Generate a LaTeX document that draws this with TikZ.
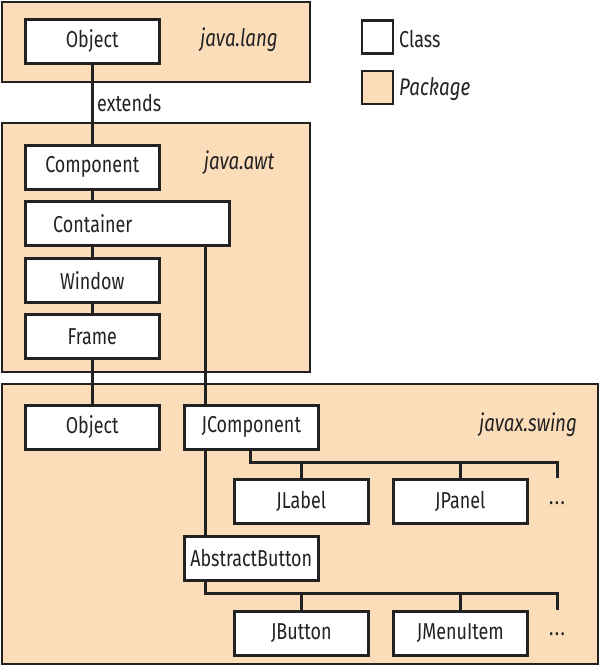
\documentclass[tikz,border=0pt]{standalone}
\usepackage{fontspec}
\setmainfont{Fira Sans}[FakeStretch=0.78]
\definecolor{pkg}{RGB}{252,221,186}
\definecolor{ink}{RGB}{34,34,34}
\begin{document}
\begin{tikzpicture}[x=1pt,y=-1pt,
  every node/.style={text=ink,font=\fontsize{23}{26}\selectfont},
  pkgbox/.style={draw=ink,fill=pkg,line width=2.5pt},
  cls/.style={draw=ink,fill=white,line width=2.5pt,inner sep=0pt,anchor=north west,minimum width=134pt,minimum height=44pt},
  conn/.style={draw=ink,line width=3pt},
  pkglabel/.style={font=\fontsize{24}{27}\selectfont\itshape}]
\useasboundingbox (0,0) rectangle (600,667);
% packages
\draw[pkgbox] (2,2) rectangle (310,82);
\draw[pkgbox] (2,123) rectangle (310,372);
\draw[pkgbox] (2,384) rectangle (598,664);
\node[pkglabel] (lblLang) at (239,40) {java.lang};
\node[pkglabel] (lblAwt) at (239,163) {java.awt};
\node[pkglabel] (lblSwing) at (528,425) {javax.swing};
% legend
\node[draw=ink,fill=white,line width=2.5pt,minimum width=31pt,minimum height=33pt,inner sep=0pt] (legClass) at (377.5,37) {};
\node[draw=ink,fill=pkg,line width=2.5pt,minimum width=31pt,minimum height=33pt,inner sep=0pt] (legPkg) at (377.5,87.5) {};
\node[anchor=west,inner sep=0pt] (legClassTxt) at (399,39) {Class};
\node[pkglabel,anchor=west,inner sep=0pt] (legPkgTxt) at (399,89) {Package};
% classes
\node[cls] (objLang) at (24,18) {Object};
\node[cls] (comp) at (24,144) {Component};
\node[cls,minimum width=204pt] (container) at (24,200) {\makebox[135pt]{Container}\kern69pt};
\node[cls] (window) at (24,257) {Window};
\node[cls] (frame) at (24,313) {Frame};
\node[cls] (objSwing) at (24,404) {Object};
\node[cls] (jcomp) at (183,404) {JComponent};
\node[cls] (jlabel) at (233,478) {JLabel};
\node[cls] (jpanel) at (392,478) {JPanel};
\node[cls] (abtn) at (183,535) {AbstractButton};
\node[cls] (jbutton) at (233,610) {JButton};
\node[cls] (jmenu) at (392,610) {JMenuItem};
\node (dots1) at (557,503) {.\kern1.5pt.\kern1.5pt.};
\node (dots2) at (557,634) {.\kern1.5pt.\kern1.5pt.};
% connectors
\draw[conn] (objLang.south) -- (comp.north);
\node[anchor=west,inner sep=0pt] (extends) at (97,103) {extends};
\draw[conn] (comp.south) -- (comp.south |- container.north);
\draw[conn] (window.north |- container.south) -- (window.north);
\draw[conn] (window.south) -- (frame.north);
\draw[conn] (frame.south) -- (objSwing.north);
\coordinate (jc) at ([xshift=22pt]jcomp.north west);
\draw[conn] (jc |- container.south) -- (jc);
\draw[conn] (jcomp.south -| jc) -- (abtn.north -| jc);
% JComponent bus
\coordinate (jb) at ([xshift=67pt]jcomp.south west);
\coordinate (bus1) at (557,462);
\coordinate (bus1end) at (557,478);
\draw[conn] (jb) |- (bus1) -- (bus1end);
\draw[conn] (jlabel.north) -- (jlabel.north |- bus1);
\draw[conn] (jpanel.north) -- (jpanel.north |- bus1);
% AbstractButton bus
\coordinate (ab) at ([xshift=22pt]abtn.south west);
\coordinate (bus2) at (557,593);
\coordinate (bus2end) at (557,610);
\draw[conn] (ab) |- (bus2) -- (bus2end);
\draw[conn] (jbutton.north) -- (jbutton.north |- bus2);
\draw[conn] (jmenu.north) -- (jmenu.north |- bus2);
\end{tikzpicture}
\end{document}
